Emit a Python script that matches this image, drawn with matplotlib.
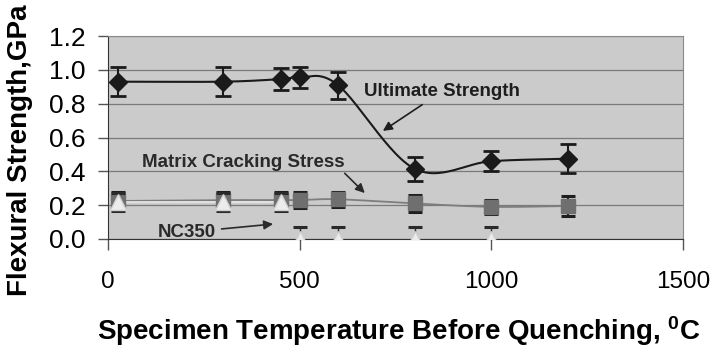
import numpy as np
import matplotlib.pyplot as plt

plt.rcParams['font.family'] = ['Liberation Sans', 'DejaVu Sans']
plt.rcParams['mathtext.fontset'] = 'custom'
plt.rcParams['mathtext.rm'] = 'Liberation Sans'
plt.rcParams['mathtext.bf'] = 'Liberation Sans:bold'

# data
temps = [25, 300, 450, 500, 600, 800, 1000, 1200]
ult_strength = [0.93, 0.93, 0.945, 0.955, 0.91, 0.415, 0.46, 0.475]
ult_err = [0.085, 0.085, 0.065, 0.06, 0.08, 0.07, 0.06, 0.085]

mcs_stress = [0.225, 0.23, 0.23, 0.23, 0.235, 0.21, 0.19, 0.195]
mcs_err = [0.05, 0.05, 0.05, 0.048, 0.045, 0.048, 0.04, 0.06]

nc_temps = [25, 300, 450, 500, 600, 800, 1000]
nc_stress = [0.22, 0.22, 0.22, 0.0, 0.0, 0.0, 0.0]
nc_err = [0.053, 0.053, 0.053, 0.07, 0.07, 0.07, 0.07]

xticks = [0, 500, 1000, 1500]
yticks = [0.0, 0.2, 0.4, 0.6, 0.8, 1.0, 1.2]


def smooth(x, y, n=30):
    # catmull-rom curve through the points, like excel's smoothed line
    x = np.asarray(x, float)
    y = np.asarray(y, float)
    px = np.concatenate([[2 * x[0] - x[1]], x, [2 * x[-1] - x[-2]]])
    py = np.concatenate([[2 * y[0] - y[1]], y, [2 * y[-1] - y[-2]]])
    t = np.linspace(0, 1, n)
    xs, ys = [], []
    for i in range(1, len(px) - 2):
        for p, out in ((px, xs), (py, ys)):
            p0, p1, p2, p3 = p[i - 1], p[i], p[i + 1], p[i + 2]
            out.extend(0.5 * (2 * p1 + (-p0 + p2) * t
                              + (2 * p0 - 5 * p1 + 4 * p2 - p3) * t ** 2
                              + (-p0 + 3 * p1 - 3 * p2 + p3) * t ** 3))
    return np.array(xs), np.array(ys)


fig = plt.figure(figsize=(7.12, 3.48), dpi=100)
ax = fig.add_axes([108 / 712, 1 - 239 / 348, 575 / 712, 203 / 348])
ax.set_facecolor('#cbcbcb')

# matrix cracking stress (squares)
sx, sy = smooth(temps, mcs_stress)
ax.plot(sx, sy, color='#7e7e7e', lw=1.3, zorder=3)
ax.errorbar(temps, mcs_stress, yerr=mcs_err, fmt='none', ecolor='#1e1e1e',
            elinewidth=1.5, capsize=5, capthick=2.2, zorder=4)
ax.plot(temps, mcs_stress, 's', ms=9.5, color='#6f6f6f', mec='#6f6f6f', zorder=5)

# NC350 (triangles)
ax.plot(nc_temps[:3], nc_stress[:3], color='#e6e6e6', lw=1.2, zorder=3)
ax.errorbar(nc_temps, nc_stress, yerr=nc_err, fmt='none', ecolor='#2a2a2a',
            elinewidth=1.0, capsize=5, capthick=2.2, zorder=6)
ax.plot(nc_temps, nc_stress, '^', ms=12, color='#ececec', mec='#d0d0d0', zorder=7)

# ultimate strength (diamonds)
ux, uy = smooth(temps, ult_strength)
ax.plot(ux, uy, color='#1a1a1a', lw=1.5, zorder=8)
ax.errorbar(temps, ult_strength, yerr=ult_err, fmt='none', ecolor='#1a1a1a',
            elinewidth=1.5, capsize=5.5, capthick=2, zorder=8)
ax.plot(temps, ult_strength, 'D', ms=9, color='#1a1a1a', zorder=9)

ax.set_xlim(0, 1500)
ax.set_ylim(0, 1.2)
ax.set_xticks(xticks)
ax.set_yticks(yticks)
ax.set_xticklabels([str(v) for v in xticks])
ax.set_yticklabels(['%.1f' % v for v in yticks])
ax.grid(axis='y', color='#7a7a7a', lw=0.9)
ax.set_axisbelow(True)
ax.tick_params(axis='x', length=8, width=1, pad=15, labelsize=17.5, color='#555555')
ax.tick_params(axis='y', length=7, width=1, pad=9, labelsize=19, color='#555555')
for side in ['top', 'right']:
    ax.spines[side].set_color('#8a8a8a')
for side in ['left', 'bottom']:
    ax.spines[side].set_color('#333333')

ax.annotate('Ultimate Strength', xy=(711, 0.63), xytext=(870, 0.87),
            ha='center', va='center', fontsize=13.5, fontweight='bold', color='#1e1e1e',
            arrowprops=dict(arrowstyle='-|>', color='#1e1e1e', lw=1.2), zorder=10)
ax.annotate('Matrix Cracking Stress', xy=(675, 0.26), xytext=(352, 0.455),
            ha='center', va='center', fontsize=13.5, fontweight='bold', color='#2a2a2a',
            arrowprops=dict(arrowstyle='-|>', color='#2a2a2a', lw=1.2,
                            shrinkA=0, relpos=(0.98, 0.1)), zorder=10)
ax.annotate('NC350', xy=(438, 0.09), xytext=(206, 0.04),
            ha='center', va='center', fontsize=13.5, fontweight='bold', color='#2a2a2a',
            arrowprops=dict(arrowstyle='-|>', color='#2a2a2a', lw=1.2, shrinkA=2), zorder=10)

fig.text(20 / 712, 1 - 150 / 348, 'Flexural Strength,GPa', rotation=90,
         ha='center', va='center', fontsize=20, fontweight='bold')
fig.text(399 / 712, 1 - 331 / 348, r'Specimen Temperature Before Quenching, $\mathbf{^0}$C',
         ha='center', va='center', fontsize=20, fontweight='bold')

fig.savefig('out.png', dpi=100)
